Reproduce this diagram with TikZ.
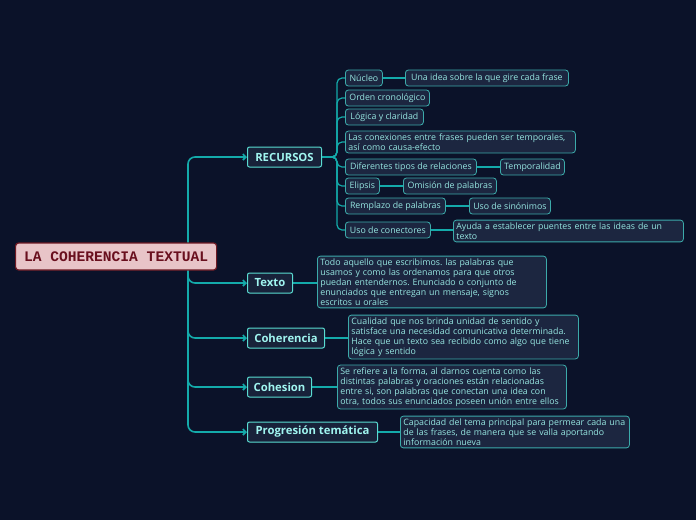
\documentclass[tikz,border=0pt]{standalone}
\usepackage{fontspec}
\setmainfont{Open Sans}
\newfontfamily\rootfont{Liberation Mono}
\usetikzlibrary{arrows.meta,backgrounds}
\frenchspacing
\definecolor{bgc}{RGB}{11,18,41}
\definecolor{subfill}{RGB}{28,38,64}
\definecolor{subborder}{RGB}{60,170,170}
\definecolor{subtext}{RGB}{150,230,225}
\definecolor{mainfill}{RGB}{24,34,58}
\definecolor{mainborder}{RGB}{90,220,210}
\definecolor{maintext}{RGB}{160,245,240}
\definecolor{linec}{RGB}{20,170,170}
\definecolor{rootfill}{RGB}{232,196,200}
\definecolor{rootborder}{RGB}{110,25,35}
\definecolor{roottext}{RGB}{105,15,30}
\tikzset{
  rootbox/.style={draw=rootborder, fill=rootfill, text=roottext, line width=1.2pt, rounded corners=3pt,
    font=\rootfont\bfseries\fontsize{14.6}{16}\selectfont, minimum width=201pt, minimum height=27pt, anchor=west, inner sep=0pt},
  mainbox/.style={draw=mainborder, fill=mainfill, text=maintext, line width=1pt, rounded corners=2pt,
    font=\bfseries\fontsize{11.3}{13}\selectfont, minimum height=20pt, anchor=west, inner sep=0pt},
  subbox/.style={draw=subborder, fill=subfill, text=subtext, line width=0.8pt, rounded corners=3pt,
    font=\fontsize{8.8}{10}\selectfont, minimum height=16pt, anchor=west, inner xsep=3pt, inner ysep=2.5pt},
  descbox/.style={subbox, align=left},
  trunkline/.style={draw=linec, line width=1.6pt, rounded corners=7pt, -{Straight Barb[length=3pt,width=6pt]}},
  subline/.style={draw=linec, line width=1.2pt, rounded corners=5pt},
}
\begin{document}
\begin{tikzpicture}[x=1pt,y=-1pt]
\useasboundingbox (0,0) rectangle (696,520);

% root
\node[rootbox] (root) at (15,256.5) {LA COHERENCIA TEXTUAL};

% main nodes
\node[mainbox, minimum width=74pt] (recursos) at (247,157) {RECURSOS};
\node[mainbox, minimum width=45pt] (texto) at (247,283) {Texto};
\node[mainbox, minimum width=77pt] (coherencia) at (247,338) {Coherencia};
\node[mainbox, minimum width=64pt] (cohesion) at (247,387) {Cohesion};
\node[mainbox, minimum width=130pt] (progresion) at (247,432) {Progresión temática};

% recursos children
\node[subbox, minimum width=37pt] (nucleo) at (345,78) {Núcleo};
\node[subbox, minimum width=163pt] (idea) at (405,78) {Una idea sobre la que gire cada frase};
\node[subbox, minimum width=84pt] (orden) at (345,98) {Orden cronológico};
\node[subbox, minimum width=78pt] (logica) at (345,117) {Lógica y claridad};
\node[descbox, text width=224pt] (conex) at (345,142) {Las conexiones entre frases pueden ser temporales,\\así como causa-efecto};
\node[subbox, minimum width=131pt] (dif) at (345,167) {Diferentes tipos de relaciones};
\node[subbox, minimum width=64pt] (temp) at (500,167) {Temporalidad};
\node[subbox, minimum width=34pt] (elipsis) at (345,186) {Elipsis};
\node[subbox, minimum width=93pt] (omision) at (403,186) {Omisión de palabras};
\node[subbox, minimum width=100pt] (remplazo) at (345,206) {Remplazo de palabras};
\node[subbox, minimum width=81pt] (sinonimos) at (469,206) {Uso de sinónimos};
\node[subbox, minimum width=85pt] (conectores) at (345,230) {Uso de conectores};
\node[descbox, text width=224pt] (ayuda) at (453,231) {Ayuda a establecer puentes entre las ideas de un\\texto};

% descriptions
\node[descbox, text width=223pt] (dtexto) at (317,282) {Todo aquello que escribimos. las palabras que\\usamos y como las ordenamos para que otros\\puedan entendernos. Enunciado o conjunto de\\enunciados que entregan un mensaje, signos\\escritos u orales};
\node[descbox, text width=224pt] (dcoher) at (348,337) {Cualidad que nos brinda unidad de sentido y\\satisface una necesidad comunicativa determinada.\\Hace que un texto sea recibido como algo que tiene\\lógica y sentido};
\node[descbox, text width=223pt] (dcohes) at (337,387) {Se refiere a la forma, al darnos cuenta como las\\distintas palabras y oraciones están relacionadas\\entre si, son palabras que conectan una idea con\\otra, todos sus enunciados poseen unión entre ellos};
\node[descbox, text width=223pt] (dprog) at (400,432) {Capacidad del tema principal para permear cada una\\de las frases, de manera que se valla aportando\\información nueva};

\begin{scope}[on background layer]
\fill[bgc] (0,0) rectangle (696,520);
\coordinate (hub) at (188,256.5);
\draw[trunkline] (hub) |- (recursos.west);
\draw[trunkline] (hub) |- (texto.west);
\draw[trunkline] (hub) |- (coherencia.west);
\draw[trunkline] (hub) |- (cohesion.west);
\draw[trunkline] (hub) |- (progresion.west);

\coordinate (bus) at (337,157);
\foreach \c in {nucleo,orden,logica,conex,dif,elipsis,remplazo,conectores}
  \draw[subline] (recursos.east) -- (bus) |- (\c.west);

\draw[subline] (nucleo.east) -- (idea.west);
\draw[subline] (dif.east) -- (temp.west);
\draw[subline] (elipsis.east) -- (omision.west);
\draw[subline] (remplazo.east) -- (sinonimos.west);
\draw[subline] (conectores.east) -- (conectores.east -| ayuda.west);

\draw[subline] (texto.east) -- (texto.east -| dtexto.west);
\draw[subline] (coherencia.east) -- (coherencia.east -| dcoher.west);
\draw[subline] (cohesion.east) -- (cohesion.east -| dcohes.west);
\draw[subline] (progresion.east) -- (progresion.east -| dprog.west);
\end{scope}
\end{tikzpicture}
\end{document}
